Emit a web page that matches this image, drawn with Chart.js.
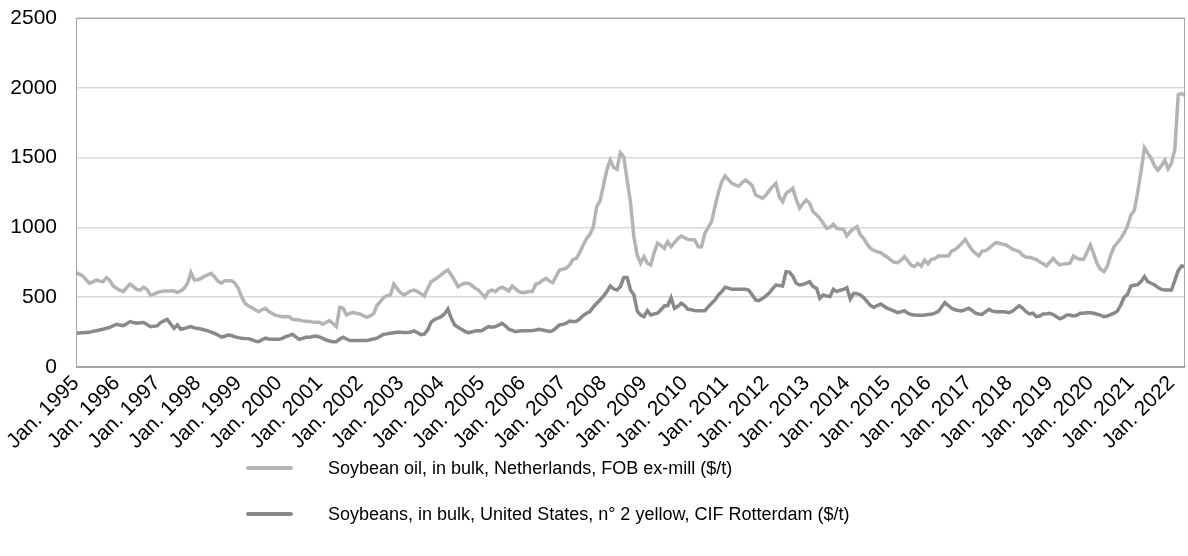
<!DOCTYPE html>
<html>
<head>
<meta charset="utf-8">
<script src="https://cdn.jsdelivr.net/npm/chart.js@4"></script>
<style>
  body { margin: 0; background: #fff; }
  #wrap { position: relative; width: 1188px; height: 556px; }
  #legend { position: absolute; left: 246px; top: 445px; font: 18px Arial, "Liberation Sans", sans-serif; color: #000; }
  #legend .item { display: flex; align-items: center; height: 46px; }
  #legend .swatch { width: 47px; height: 4px; margin-right: 35px; border-radius: 2px; }
</style>
</head>
<body>
<div id="wrap">
  <canvas id="myChart"></canvas>
  <div id="legend"></div>
</div>
<script>
// monthly series, Jan. 1995 - May 2022
var startYear = 1995;
var monthNames = ['Jan.', 'Feb.', 'Mar.', 'Apr.', 'May', 'Jun.', 'Jul.', 'Aug.', 'Sep.', 'Oct.', 'Nov.', 'Dec.'];
var yTicks = [0, 500, 1000, 1500, 2000, 2500];

var soyOil = [
  676, 665, 652, 625, 600, 610, 623, 615, 611, 640, 620, 580,
  564, 550, 540, 570, 594, 575, 555, 551, 571, 555, 516, 520,
  532, 540, 544, 544, 544, 544, 535, 545, 564, 600, 676, 623,
  625, 635, 650, 660, 671, 645, 615, 600, 618, 618, 618, 600,
  564, 500, 455, 437, 425, 410, 396, 410, 420, 397, 385, 370,
  365, 360, 362, 360, 341, 339, 337, 330, 328, 325, 322, 320,
  320, 306, 320, 332, 310, 289, 427, 420, 372, 385, 389, 383,
  380, 368, 356, 365, 380, 440, 468, 499, 510, 516, 594, 560,
  532, 516, 530, 545, 551, 540, 525, 508, 560, 611, 625, 642,
  660, 680, 695, 659, 620, 575, 590, 600, 600, 585, 565, 551,
  525, 499, 540, 551, 540, 560, 571, 560, 544, 580, 560, 540,
  532, 535, 540, 540, 594, 600, 620, 635, 615, 604, 650, 695,
  700, 707, 731, 770, 778, 820, 874, 920, 950, 1005, 1148, 1190,
  1300, 1411, 1483, 1430, 1416, 1535, 1506, 1340, 1180, 933, 800, 743,
  790, 743, 731, 820, 886, 870, 850, 898, 862, 890, 920, 938,
  925, 914, 912, 910, 862, 862, 958, 1000, 1041, 1150, 1250, 1327,
  1368, 1340, 1316, 1304, 1295, 1320, 1339, 1320, 1300, 1232, 1220, 1208,
  1230, 1263, 1290, 1316, 1220, 1184, 1244, 1260, 1280, 1200, 1137, 1170,
  1196, 1172, 1112, 1090, 1065, 1030, 993, 1000, 1022, 993, 990, 986,
  938, 970, 990, 1005, 945, 920, 880, 850, 835, 825, 819, 800,
  786, 765, 750, 747, 765, 790, 760, 730, 719, 743, 723, 766,
  738, 771, 775, 795, 795, 795, 795, 831, 840, 862, 885, 914,
  875, 838, 815, 795, 830, 833, 850, 870, 890, 886, 880, 874,
  860, 843, 835, 826, 800, 786, 786, 778, 770, 754, 740, 723,
  750, 778, 750, 731, 738, 740, 743, 795, 780, 771, 771, 820,
  874, 810, 740, 700, 683, 720, 800, 860, 890, 920, 960, 1010,
  1089, 1120, 1250, 1400, 1570, 1530, 1495, 1440, 1410, 1440, 1480, 1420,
  1460, 1560, 1950, 1960, 1945
];

var soybeans = [
  241, 243, 245, 247, 249, 255, 260, 265, 270, 277, 284, 295,
  306, 300, 296, 310, 325, 318, 313, 316, 318, 305, 289, 292,
  294, 318, 330, 341, 308, 277, 301, 270, 275, 283, 289, 280,
  275, 272, 265, 258, 249, 240, 228, 213, 220, 229, 225, 215,
  210, 206, 204, 203, 195, 185, 181, 195, 206, 200, 199, 198,
  198, 205, 217, 225, 234, 215, 198, 205, 213, 212, 218, 222,
  215, 205, 193, 186, 181, 181, 200, 213, 200, 189, 189, 189,
  189, 189, 190, 195, 200, 206, 220, 234, 237, 241, 245, 249,
  249, 247, 246, 250, 258, 245, 232, 235, 265, 320, 340, 349,
  360, 380, 415, 349, 300, 285, 270, 255, 246, 250, 258, 260,
  260, 275, 289, 285, 289, 300, 313, 295, 270, 262, 253, 257,
  260, 260, 260, 262, 265, 270, 265, 260, 255, 260, 280, 301,
  305, 313, 329, 325, 327, 345, 368, 385, 396, 430, 456, 480,
  508, 540, 580, 560, 551, 575, 640, 640, 551, 516, 400, 372,
  360, 403, 372, 380, 385, 410, 437, 440, 496, 420, 435, 456,
  440, 413, 410, 405, 403, 403, 403, 430, 456, 480, 516, 540,
  571, 565, 556, 556, 556, 556, 556, 550, 516, 480, 475, 490,
  508, 530, 560, 587, 583, 580, 683, 680, 650, 600, 587, 590,
  600, 611, 575, 564, 492, 516, 508, 504, 556, 540, 550, 556,
  568, 487, 528, 525, 516, 495, 468, 440, 427, 440, 451, 435,
  420, 410, 400, 389, 395, 403, 385, 375, 372, 371, 370, 372,
  375, 377, 385, 396, 430, 461, 440, 420, 410, 405, 401, 410,
  420, 405, 385, 380, 377, 395, 413, 400, 396, 396, 396, 393,
  389, 400, 420, 439, 420, 396, 380, 385, 360, 365, 380, 382,
  385, 375, 360, 345, 355, 372, 372, 365, 370, 385, 385, 389,
  389, 385, 378, 372, 360, 365, 375, 385, 400, 444, 499, 520,
  580, 585, 590, 611, 647, 611, 600, 587, 570, 556, 551, 551,
  551, 620, 690, 723, 718
];

var labels = [];
for (var i = 0; i < soyOil.length; i++) {
  labels.push(monthNames[i % 12] + ' ' + (startYear + Math.floor(i / 12)));
}

var seriesNames = [
  'Soybean oil, in bulk, Netherlands, FOB ex-mill ($/t)',
  'Soybeans, in bulk, United States, n° 2 yellow, CIF Rotterdam ($/t)'
];
var seriesColors = ['#b4b4b4', '#898989'];

// box around the plot area
var frame = {
  id: 'frame',
  afterDraw: function(chart) {
    var a = chart.chartArea, c = chart.ctx;
    c.save();
    c.strokeStyle = '#a6a6a6';
    c.lineWidth = 1;
    c.strokeRect(a.left + 0.5, a.top + 0.5, a.right - a.left - 1, a.bottom - a.top);
    c.restore();
  }
};

var font = 'Arial, "Liberation Sans", sans-serif';
var ctx = document.getElementById('myChart').getContext('2d');
var myChart = new Chart(ctx, {
  type: 'line',
  data: {
    labels: labels,
    datasets: [
      { label: seriesNames[0], data: soyOil, borderColor: seriesColors[0], borderWidth: 3.5, pointRadius: 0, tension: 0 },
      { label: seriesNames[1], data: soybeans, borderColor: seriesColors[1], borderWidth: 3.5, pointRadius: 0, tension: 0 }
    ]
  },
  options: {
    responsive: true,
    maintainAspectRatio: false,
    animation: false,
    layout: { padding: { top: 18, right: 3, bottom: 98, left: 10 } },
    plugins: {
      legend: { display: false },
      tooltip: { enabled: false }
    },
    scales: {
      x: {
        // rotated first label may hang past the y axis, like the original
        afterFit: function(scale) {
          scale.paddingLeft = 0;
          scale.paddingRight = 0;
        },
        grid: { display: false, drawTicks: false },
        border: { display: true, color: '#a6a6a6' },
        ticks: {
          autoSkip: false,
          maxRotation: 45,
          minRotation: 45,
          padding: 4,
          color: '#000',
          font: { family: font, size: 21 },
          callback: function(value, index) {
            return index % 12 === 0 ? this.getLabelForValue(value) : '';
          }
        }
      },
      y: {
        min: 0,
        max: 2500,
        afterFit: function(scale) {
          scale.width = 66;
          scale.paddingTop = 0;
          scale.paddingBottom = 0;
        },
        afterBuildTicks: function(axis) {
          axis.ticks = yTicks.map(function(v) { return { value: v }; });
        },
        grid: { color: '#d9d9d9', lineWidth: 1.5, drawTicks: false },
        border: { display: true, color: '#a6a6a6' },
        ticks: {
          padding: 19,
          color: '#000',
          font: { family: font, size: 21 },
          callback: function(value) { return String(value); }
        }
      }
    }
  },
  plugins: [frame]
});

// legend stacked below the chart
var legendBox = document.getElementById('legend');
seriesNames.forEach(function(name, k) {
  var row = document.createElement('div');
  row.className = 'item';
  var sw = document.createElement('span');
  sw.className = 'swatch';
  sw.style.background = seriesColors[k];
  var tx = document.createElement('span');
  tx.textContent = name;
  row.appendChild(sw);
  row.appendChild(tx);
  legendBox.appendChild(row);
});
</script>
</body>
</html>
